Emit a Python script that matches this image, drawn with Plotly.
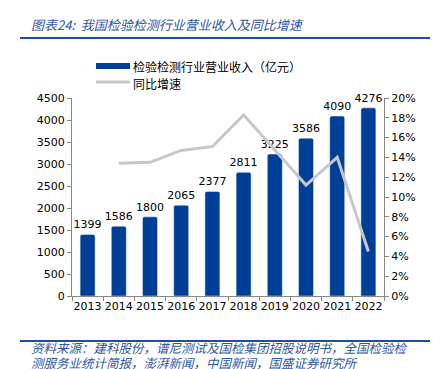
import plotly.graph_objects as go

years = ["2013", "2014", "2015", "2016", "2017", "2018", "2019", "2020", "2021", "2022"]
revenue = [1399, 1586, 1800, 2065, 2377, 2811, 3225, 3586, 4090, 4276]
growth = [None, 0.134, 0.135, 0.147, 0.151, 0.183, 0.147, 0.112, 0.140, 0.045]

title_text = "图表24:  我国检验检测行业营业收入及同比增速"
bar_name = "检验检测行业营业收入（亿元）"
line_name = "同比增速"
source_line1 = "资料来源：建科股份，谱尼测试及国检集团招股说明书，全国检验检"
source_line2 = "测服务业统计简报，澎湃新闻，中国新闻，国盛证券研究所"

BAR_COLOR = "#003F97"
LINE_COLOR = "#C8C8C8"
BLUE_TEXT = "#2E56A6"
FONT = "DejaVu Sans, Noto Sans CJK SC, sans-serif"
CJK = "Noto Sans CJK SC, sans-serif"

fig = go.Figure()
fig.add_trace(go.Bar(
    x=years, y=revenue, name=bar_name, marker_color=BAR_COLOR,
    width=0.48, text=[str(v) for v in revenue], textposition="outside",
    constraintext="none",
    textfont=dict(size=11, color="#000000", family=FONT), cliponaxis=False,
    showlegend=False,
))
fig.add_trace(go.Scatter(
    x=years, y=growth, name=line_name, yaxis="y2", mode="lines",
    line=dict(color=LINE_COLOR, width=3), connectgaps=False, showlegend=False,
))

W = 312
H = 198
fig.update_layout(
    width=432, height=361,
    margin=dict(l=64, r=56, t=90, b=73, autoexpand=False),
    paper_bgcolor="white", plot_bgcolor="white",
    font=dict(family=FONT, size=11, color="#000000"),
    barcornerradius=2,
    xaxis=dict(type="category", showline=True, linecolor="#888888", linewidth=1,
               ticks="outside", tickson="boundaries", ticklen=4, tickcolor="#888888",
               tickfont=dict(size=11), tickangle=0, showgrid=False, automargin=False),
    yaxis=dict(range=[0, 4500], dtick=500, showline=True, linecolor="#888888",
               linewidth=1, ticks="outside", ticklen=4, tickcolor="#888888",
               showgrid=False, zeroline=False, tickfont=dict(size=11), automargin=False),
    yaxis2=dict(range=[0, 0.2], dtick=0.02, tickformat=".0%", overlaying="y",
                side="right", showline=True, linecolor="#888888", linewidth=1,
                ticks="outside", ticklen=4, tickcolor="#888888", showgrid=False,
                zeroline=False, tickfont=dict(size=11), automargin=False),
    shapes=[
        dict(type="line", xref="paper", yref="paper", x0=-52/W, x1=358/W,
             y0=1 + 60/H, y1=1 + 60/H, line=dict(color="#1F4E9E", width=2)),
        dict(type="line", xref="paper", yref="paper", x0=-52/W, x1=358/W,
             y0=-45/H, y1=-45/H, line=dict(color="#1F4E9E", width=2)),
        dict(type="rect", xref="paper", yref="paper", x0=24/W, x1=58/W,
             y0=1 + 29/H, y1=1 + 35/H, fillcolor=BAR_COLOR, line=dict(width=0)),
        dict(type="line", xref="paper", yref="paper", x0=24/W, x1=58/W,
             y0=1 + 16/H, y1=1 + 16/H, line=dict(color=LINE_COLOR, width=3)),
    ],
    annotations=[
        dict(text="<i>" + title_text + "</i>", xref="paper", yref="paper",
             x=-43/W, y=1 + 74/H, xanchor="left", yanchor="middle",
             showarrow=False, font=dict(family=CJK, size=13, color=BLUE_TEXT)),
        dict(text=bar_name, xref="paper", yref="paper", x=59/W, y=1 + 32/H,
             xanchor="left", yanchor="middle", showarrow=False,
             font=dict(family=CJK, size=12, color="#000000")),
        dict(text=line_name, xref="paper", yref="paper", x=59/W, y=1 + 15/H,
             xanchor="left", yanchor="middle", showarrow=False,
             font=dict(family=CJK, size=12, color="#000000")),
        dict(text="<i>" + source_line1 + "</i>",
             xref="paper", yref="paper", x=-43/W, y=-51/H, xanchor="left",
             yanchor="middle", align="left", showarrow=False,
             font=dict(family=CJK, size=12.5, color=BLUE_TEXT)),
        dict(text="<i>" + source_line2 + "</i>",
             xref="paper", yref="paper", x=-43/W, y=-66/H, xanchor="left",
             yanchor="middle", align="left", showarrow=False,
             font=dict(family=CJK, size=12.5, color=BLUE_TEXT)),
    ],
)

fig.write_html("out.html")
